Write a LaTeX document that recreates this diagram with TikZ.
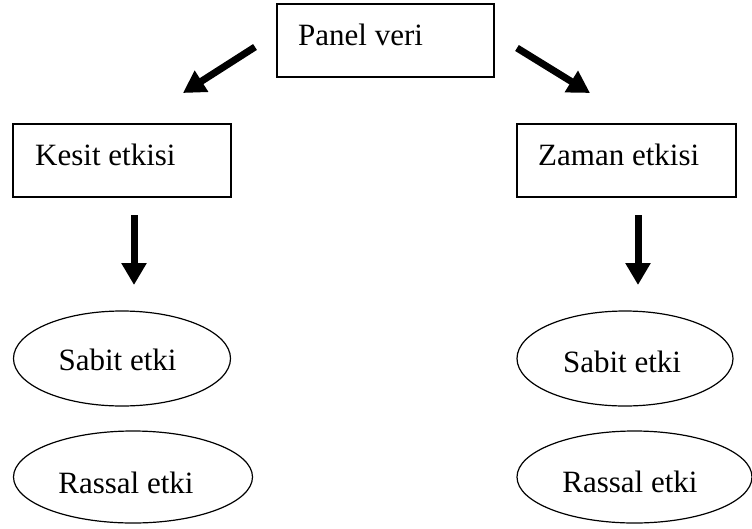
\documentclass[tikz,border=0pt]{standalone}
\usepackage{fontspec}
\setmainfont{Liberation Serif}
\usetikzlibrary{shapes.geometric,arrows.meta}
\begin{document}
\begin{tikzpicture}[x=1pt,y=1pt,
  boxshape/.style={draw,line width=1.2pt,rectangle,inner sep=0pt,minimum height=73pt},
  ellshape/.style={draw,line width=1.2pt,ellipse,inner sep=0pt},
  txt/.style={inner sep=0pt,font=\fontsize{31}{36}\selectfont},
  bigarrow/.style={line width=7pt,-{Triangle[length=22pt,width=24pt]}}]
\useasboundingbox (0,0) rectangle (752,-528);
% boxes
\node[boxshape,minimum width=217pt] (panel) at (385.5,-40.5) {};
\node[boxshape,minimum width=218pt] (kesit) at (122,-160.5) {};
\node[boxshape,minimum width=219pt] (zaman) at (626.5,-160.5) {};
\node[txt,anchor=base west] (panelt) at (298,-45) {Panel veri};
\node[txt,anchor=base west] (kesitt) at (35,-165) {Kesit etkisi};
\node[txt,anchor=base west] (zamant) at (538,-165) {Zaman etkisi};
% ellipses
\node[ellshape,minimum width=217pt,minimum height=95pt] (ls) at (122,-358.5) {};
\node[ellshape,minimum width=239pt,minimum height=92pt] (lr) at (133,-477) {};
\node[ellshape,minimum width=216pt,minimum height=95pt] (rs) at (625,-358.5) {};
\node[ellshape,minimum width=235pt,minimum height=92pt] (rr) at (634.5,-477) {};
\node[txt,anchor=base] (lst) at (117.5,-370) {Sabit etki};
\node[txt,anchor=base] (lrt) at (126,-493) {Rassal etki};
\node[txt,anchor=base] (rst) at (622,-372) {Sabit etki};
\node[txt,anchor=base] (rrt) at (630,-492) {Rassal etki};
% arrow endpoints
\coordinate (a1s) at (255,-47);
\coordinate (a1e) at (183,-93);
\coordinate (a2s) at (517,-48);
\coordinate (a2e) at (590,-93);
\coordinate (a3s) at (134,-215);
\coordinate (a3e) at (134,-285);
\coordinate (a4s) at (638,-215);
\coordinate (a4e) at (638,-285);
\draw[bigarrow] (a1s) -- (a1e);
\draw[bigarrow] (a2s) -- (a2e);
\draw[bigarrow] (a3s) -- (a3e);
\draw[bigarrow] (a4s) -- (a4e);
\end{tikzpicture}
\end{document}
